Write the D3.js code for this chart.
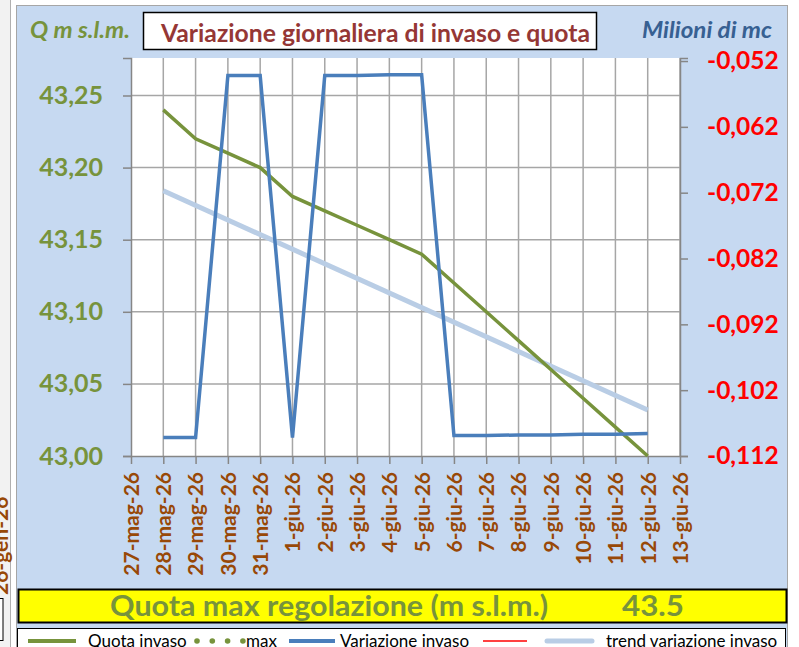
<!DOCTYPE html>
<html>
<head>
<meta charset="utf-8">
<script src="https://cdn.jsdelivr.net/npm/d3@7"></script>
<style>
  body { margin: 0; background: #fff; }
  svg { display: block; font-family: Lato, "Open Sans", sans-serif; }
</style>
</head>
<body>
<svg width="799" height="647"></svg>
<script>
// axis categories (one per day)
let tickLabels = ['27-mag-26', '28-mag-26', '29-mag-26', '30-mag-26', '31-mag-26', '1-giu-26', '2-giu-26',
    '3-giu-26', '4-giu-26', '5-giu-26', '6-giu-26', '7-giu-26', '8-giu-26', '9-giu-26', '10-giu-26',
    '11-giu-26', '12-giu-26', '13-giu-26'];
let days = tickLabels.slice(1, 17);

let quota = [43.24, 43.22, 43.21, 43.20, 43.18, 43.17, 43.16, 43.15, 43.14, 43.12, 43.10, 43.08, 43.06, 43.04, 43.02, 43.00];
let variazione = [-0.1092, -0.1092, -0.0542, -0.0542, -0.1092, -0.0542, -0.0542, -0.0541, -0.0541,
    -0.1089, -0.1089, -0.1088, -0.1088, -0.1087, -0.1087, -0.1086];
// trend line, read at first and last day
let trendDays = ['28-mag-26', '12-giu-26'];
let trend = [-0.0717, -0.1050];

let leftTicks = [43.00, 43.05, 43.10, 43.15, 43.20, 43.25];
let rightTicks = [-0.112, -0.102, -0.092, -0.082, -0.072, -0.062, -0.052];

let svg = d3.select('svg');
let pL = 131, pR = 680, pT = 58, pB = 456;

// left strip of the sheet
svg.append('rect').attr('x', 0).attr('y', 0).attr('width', 10).attr('height', 647).attr('fill', '#f2f2f2');
svg.append('line').attr('x1', 10.5).attr('x2', 10.5).attr('y1', 0).attr('y2', 647).attr('stroke', '#b0b0b0');
svg.append('text')
    .attr('transform', 'translate(8,595) rotate(-90)')
    .attr('fill', '#984807').attr('font-weight', 'bold').attr('font-size', 21)
    .text('26-gen-26');
svg.append('rect').attr('x', -5).attr('y', 598.5).attr('width', 8).attr('height', 42)
    .attr('fill', '#fff').attr('stroke', '#000');

// chart area
svg.append('rect').attr('x', 16.5).attr('y', 5.5).attr('width', 771).attr('height', 660)
    .attr('fill', '#c6d9f1').attr('stroke', '#a6a6a6');
svg.append('rect').attr('x', pL).attr('y', pT).attr('width', pR - pL).attr('height', pB - pT)
    .attr('fill', '#fff');

let x = d3.scalePoint().domain(tickLabels).range([pL, pR]);
let yL = d3.scaleLinear().domain([43.0, 43.276]).range([pB, pT]);
let yR = d3.scaleLinear().domain([-0.112, -0.05154]).range([pB, pT]);

// grid
svg.append('g').selectAll('line').data(tickLabels.slice(1)).enter().append('line')
    .attr('x1', d => x(d)).attr('x2', d => x(d)).attr('y1', pT).attr('y2', pB)
    .attr('stroke', '#a6a6a6').attr('stroke-width', 1.5);
svg.append('g').selectAll('line').data(leftTicks.slice(1)).enter().append('line')
    .attr('x1', pL).attr('x2', pR).attr('y1', d => yL(d)).attr('y2', d => yL(d))
    .attr('stroke', '#a6a6a6').attr('stroke-width', 1.5);

let itFmt = d3.formatLocale({decimal: ',', thousands: '.', grouping: [3], currency: ['€', ''], minus: '-'});

// left axis
let axL = svg.append('g').attr('transform', `translate(${pL},0)`)
    .call(d3.axisLeft(yL).tickValues(leftTicks).tickSize(8).tickPadding(20).tickFormat(itFmt.format('.2f')));
axL.select('.domain').attr('stroke', '#868686').attr('stroke-width', 1.5);
axL.selectAll('.tick line').attr('stroke', '#868686').attr('stroke-width', 1.5);
axL.selectAll('text').attr('fill', '#77933c').attr('font-size', 25).attr('font-weight', 'bold')
    .attr('font-family', 'Lato, sans-serif');

// right axis
let axR = svg.append('g').attr('transform', `translate(${pR},0)`)
    .call(d3.axisRight(yR).tickValues(rightTicks).tickSize(8).tickPadding(19).tickFormat(itFmt.format('.3f')));
axR.select('.domain').attr('stroke', '#868686').attr('stroke-width', 1.5);
axR.selectAll('.tick line').attr('stroke', '#868686').attr('stroke-width', 1.5);
axR.selectAll('text').attr('fill', '#ff0000').attr('font-size', 24.5).attr('font-weight', 'bold')
    .attr('font-family', 'Lato, sans-serif');

// bottom axis
let axB = svg.append('g').attr('transform', `translate(0,${pB})`)
    .call(d3.axisBottom(x).tickSize(8).tickSizeOuter(0));
axB.select('.domain').attr('stroke', '#868686').attr('stroke-width', 1.5);
axB.selectAll('.tick line').attr('stroke', '#868686').attr('stroke-width', 1.5);
axB.selectAll('text')
    .attr('fill', '#984807').attr('font-size', 21).attr('font-weight', 'bold')
    .attr('font-family', 'Lato, sans-serif')
    .attr('text-anchor', 'end').attr('dy', '0.35em')
    .attr('transform', 'translate(0,8) rotate(-90)').attr('x', -8).attr('y', 0);

// series
svg.append('path')
    .datum(trendDays.map((d, i) => [d, trend[i]]))
    .attr('fill', 'none').attr('stroke', '#b9cde5').attr('stroke-width', 5)
    .attr('d', d3.line().x(d => x(d[0])).y(d => yR(d[1])));
svg.append('path')
    .datum(days.map((d, i) => [d, quota[i]]))
    .attr('fill', 'none').attr('stroke', '#77933c').attr('stroke-width', 3.5)
    .attr('d', d3.line().x(d => x(d[0])).y(d => yL(d[1])));
svg.append('path')
    .datum(days.map((d, i) => [d, variazione[i]]))
    .attr('fill', 'none').attr('stroke', '#4a7ebb').attr('stroke-width', 3.5)
    .attr('d', d3.line().x(d => x(d[0])).y(d => yR(d[1])));

// title and axis captions
svg.append('rect').attr('x', 143.5).attr('y', 12.5).attr('width', 453).attr('height', 37)
    .attr('fill', '#fff').attr('stroke', '#000').attr('stroke-width', 1.5);
svg.append('text').attr('x', 161).attr('y', 42)
    .attr('fill', '#953735').attr('font-size', 24).attr('font-weight', 'bold')
    .attr('textLength', 429).attr('lengthAdjust', 'spacingAndGlyphs')
    .text('Variazione giornaliera di invaso e quota');
svg.append('text').attr('x', 30).attr('y', 38)
    .attr('fill', '#77933c').attr('font-size', 22).attr('font-weight', 'bold').attr('font-style', 'italic')
    .attr('textLength', 100).attr('lengthAdjust', 'spacingAndGlyphs')
    .text('Q m s.l.m.');
svg.append('text').attr('x', 642).attr('y', 38)
    .attr('fill', '#376092').attr('font-size', 22).attr('font-weight', 'bold').attr('font-style', 'italic')
    .attr('textLength', 130).attr('lengthAdjust', 'spacingAndGlyphs')
    .text('Milioni di mc');

// yellow box
svg.append('rect').attr('x', 18.5).attr('y', 589.5).attr('width', 768).attr('height', 33)
    .attr('fill', '#ffff00').attr('stroke', '#000').attr('stroke-width', 2);
svg.append('text').attr('x', 110).attr('y', 616)
    .attr('fill', '#77933c').attr('font-size', 29).attr('font-weight', 'bold')
    .attr('textLength', 438).attr('lengthAdjust', 'spacingAndGlyphs')
    .text('Quota max regolazione (m s.l.m.)');
svg.append('text').attr('x', 622).attr('y', 616)
    .attr('fill', '#77933c').attr('font-size', 29).attr('font-weight', 'bold')
    .attr('textLength', 62).attr('lengthAdjust', 'spacingAndGlyphs')
    .text('43.5');

// legend
svg.append('rect').attr('x', 17.5).attr('y', 628.5).attr('width', 768).attr('height', 30)
    .attr('fill', '#fff').attr('stroke', '#000');
let lg = svg.append('g').attr('font-size', 17).attr('fill', '#000');
let ly = 641;
lg.append('line').attr('x1', 28).attr('x2', 76).attr('y1', ly).attr('y2', ly).attr('stroke', '#77933c').attr('stroke-width', 4);
lg.append('text').attr('x', 88).attr('y', ly + 6).text('Quota invaso');
lg.selectAll('circle').data([0, 1, 2, 3]).enter().append('circle')
    .attr('cx', d => 197 + d * 15.3).attr('cy', ly).attr('r', 2.8).attr('fill', '#77933c');
lg.append('text').attr('x', 246).attr('y', ly + 6).text('max');
lg.append('line').attr('x1', 289).attr('x2', 335).attr('y1', ly).attr('y2', ly).attr('stroke', '#4a7ebb').attr('stroke-width', 4);
lg.append('text').attr('x', 340).attr('y', ly + 6).text('Variazione invaso');
lg.append('line').attr('x1', 483).attr('x2', 527).attr('y1', ly).attr('y2', ly).attr('stroke', '#ff0000').attr('stroke-width', 1.5);
lg.append('line').attr('x1', 547).attr('x2', 592).attr('y1', ly).attr('y2', ly).attr('stroke', '#b9cde5').attr('stroke-width', 5).attr('stroke-linecap', 'round');
lg.append('text').attr('x', 606).attr('y', ly + 6).text('trend variazione invaso');
</script>
</body>
</html>
